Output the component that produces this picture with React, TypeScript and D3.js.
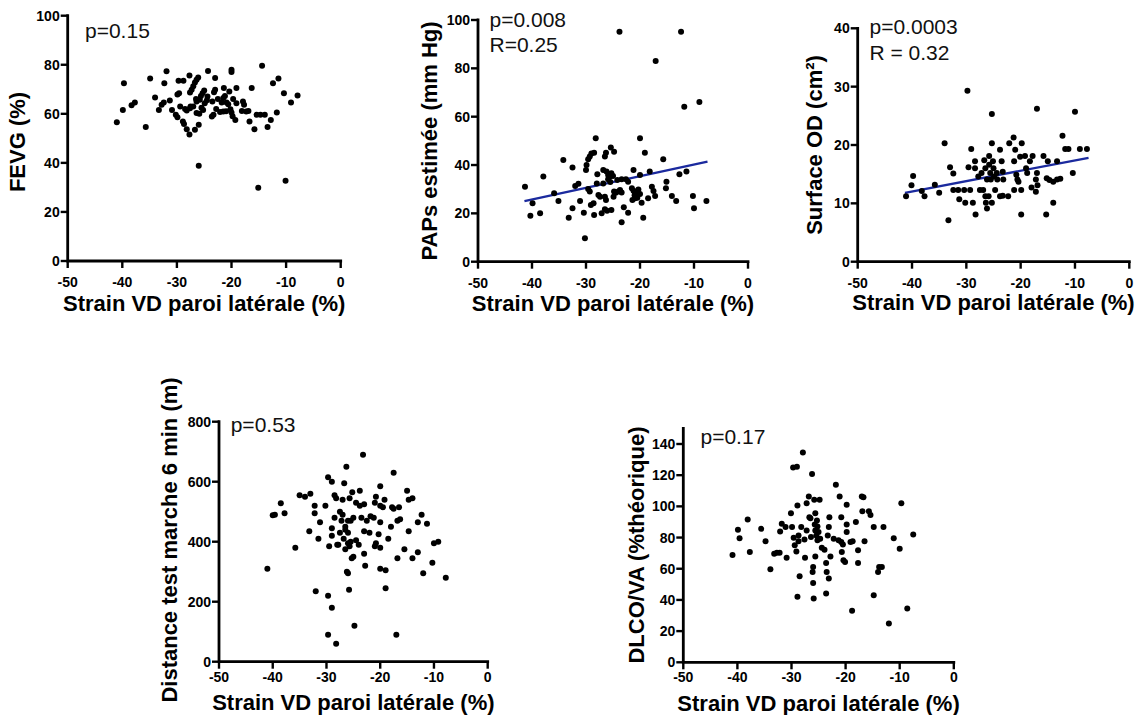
import React from 'react';
import * as d3 from 'd3';

type Pt = [number, number];

// ---------- DATA ----------
const strainTicks = [-50, -40, -30, -20, -10, 0];
const fevgTicks = [0, 20, 40, 60, 80, 100];
const papsTicks = [0, 20, 40, 60, 80, 100];
const odTicks = [0, 10, 20, 30, 40];
const walkTicks = [0, 200, 400, 600, 800];
const dlcoTicks = [0, 20, 40, 60, 80, 100, 120, 140];

const xTitle = 'Strain VD paroi latérale (%)';

const fevgPoints: Pt[] = [
  [-41.0, 56.6], [-39.9, 61.6], [-39.7, 72.5], [-38.3, 63.5], [-37.7, 64.6], [-35.7, 54.6], [-34.9, 74.4],
  [-34.0, 66.7], [-33.3, 61.6], [-32.8, 63.7], [-32.4, 64.6], [-32.3, 72.5], [-31.9, 77.4], [-31.3, 65.4],
  [-30.9, 61.6], [-30.2, 59.6], [-29.9, 58.6], [-29.9, 67.9], [-29.6, 68.4], [-29.7, 73.5], [-28.8, 73.5],
  [-29.4, 63.0], [-28.9, 56.9], [-28.7, 55.9], [-28.2, 53.7], [-27.7, 51.6], [-28.2, 61.4], [-27.7, 75.6],
  [-27.6, 68.7], [-27.3, 69.8], [-27.0, 71.2], [-26.7, 72.8], [-26.4, 73.9], [-26.1, 74.8], [-27.6, 62.3],
  [-27.0, 63.0], [-26.7, 53.5], [-26.0, 55.5], [-26.4, 60.3], [-25.9, 60.0], [-26.4, 65.0], [-25.8, 65.7],
  [-25.6, 67.3], [-25.3, 68.4], [-25.0, 69.5], [-24.9, 64.3], [-25.2, 61.6], [-26.0, 38.8], [-24.3, 77.5],
  [-24.4, 67.1], [-23.6, 58.9], [-23.3, 59.6], [-23.5, 65.0], [-23.2, 68.8], [-23.0, 69.8], [-23.0, 74.6],
  [-22.1, 60.7], [-21.5, 60.9], [-21.8, 64.6], [-21.4, 70.5], [-21.2, 67.3], [-20.9, 64.6], [-20.6, 63.9],
  [-20.4, 69.1], [-20.0, 78.0], [-20.0, 77.0], [-20.2, 61.9], [-20.0, 60.5], [-19.7, 66.0], [-19.1, 64.3],
  [-19.3, 57.5], [-19.1, 70.5], [-18.1, 61.2], [-17.9, 65.0], [-17.7, 63.7], [-17.3, 60.9], [-16.9, 61.2],
  [-16.7, 56.9], [-16.3, 70.5], [-15.8, 53.7], [-15.4, 59.6], [-14.7, 59.6], [-14.4, 79.6], [-13.9, 59.6],
  [-13.4, 54.6], [-12.8, 57.5], [-12.4, 72.5], [-11.7, 60.5], [-11.4, 74.4], [-10.4, 68.4], [-9.1, 64.6],
  [-7.9, 67.5], [-15.1, 29.9], [-10.1, 32.7], [-24.5, 65.5], [-22.5, 66.0], [-21.0, 61.0], [-26.5, 66.0],
  [-27.5, 63.0], [-28.5, 62.0], [-25.5, 62.5], [-21.5, 66.5], [-22.8, 62.0], [-19.8, 59.0],
];

const papsPoints: Pt[] = [
  [-41.3, 31.0], [-40.3, 19.0], [-39.9, 24.2], [-38.5, 20.0], [-37.9, 35.2], [-35.9, 28.3], [-35.1, 25.1],
  [-34.2, 42.1], [-33.2, 18.2], [-32.5, 39.0], [-32.5, 22.1], [-32.0, 31.3], [-31.4, 32.2], [-31.1, 25.1],
  [-30.4, 20.3], [-30.2, 9.7], [-30.0, 37.9], [-29.9, 40.0], [-29.6, 42.4], [-29.3, 43.5], [-29.0, 44.8],
  [-28.2, 51.1], [-28.5, 45.1], [-29.6, 30.1], [-29.3, 29.0], [-29.1, 23.5], [-28.6, 24.2], [-28.5, 19.3],
  [-27.9, 36.2], [-28.0, 32.4], [-27.7, 27.6], [-27.4, 26.9], [-27.1, 20.0], [-26.8, 32.4], [-26.5, 43.5],
  [-26.3, 45.1], [-25.4, 47.2], [-24.8, 45.5], [-26.5, 21.7], [-26.1, 21.1], [-25.3, 21.4], [-26.8, 37.9],
  [-26.2, 37.3], [-25.9, 35.9], [-25.6, 35.2], [-25.3, 36.6], [-25.9, 34.1], [-26.5, 26.9], [-26.3, 25.5],
  [-24.9, 26.9], [-24.8, 29.0], [-24.0, 29.0], [-23.7, 29.7], [-23.4, 28.6], [-24.2, 33.8], [-23.4, 34.1],
  [-22.6, 34.1], [-22.2, 33.1], [-23.0, 22.5], [-22.2, 20.3], [-23.4, 16.3], [-21.5, 30.4], [-21.2, 29.4],
  [-20.9, 28.3], [-21.4, 25.5], [-20.9, 26.2], [-21.2, 37.9], [-20.0, 51.1], [-20.0, 35.9], [-20.3, 29.9],
  [-20.0, 28.0], [-19.7, 24.4], [-19.1, 45.1], [-19.4, 18.2], [-18.2, 37.3], [-17.8, 31.0], [-17.5, 29.3],
  [-17.2, 27.2], [-18.5, 26.2], [-15.7, 42.4], [-15.1, 33.1], [-15.2, 30.4], [-14.1, 27.2], [-13.3, 25.1],
  [-12.7, 36.2], [-11.4, 37.3], [-10.2, 27.2], [-10.0, 22.1], [-7.7, 25.1], [-23.8, 95.1], [-17.1, 83.0],
  [-12.4, 95.1], [-11.8, 64.1], [-9.0, 66.1], [-25.5, 33.0], [-25.0, 35.5], [-24.5, 28.5], [-20.5, 26.5],
  [-21.0, 27.5],
];
const papsFit: Pt[] = [[-41.4, 25.1], [-7.5, 41.4]];

const odPoints: Pt[] = [
  [-41.1, 11.2], [-40.1, 13.1], [-39.8, 14.7], [-38.2, 12.1], [-37.7, 11.2], [-35.8, 13.2], [-35.0, 11.8],
  [-34.0, 20.3], [-33.3, 7.1], [-33.0, 16.2], [-32.4, 15.1], [-32.4, 12.3], [-31.5, 12.3], [-31.3, 10.7],
  [-30.4, 12.3], [-30.2, 10.1], [-29.8, 29.3], [-29.6, 16.2], [-29.3, 12.3], [-29.1, 19.3], [-28.8, 10.1],
  [-28.4, 17.2], [-28.3, 8.1], [-28.4, 16.0], [-27.8, 14.6], [-27.5, 12.3], [-27.2, 15.2], [-26.7, 17.4],
  [-26.5, 16.0], [-26.2, 14.1], [-26.9, 12.3], [-26.5, 11.2], [-26.4, 10.1], [-26.2, 9.1], [-25.9, 11.2],
  [-25.8, 18.1], [-25.8, 16.6], [-25.6, 15.2], [-25.5, 14.1], [-25.3, 25.3], [-25.3, 20.3], [-25.1, 17.2],
  [-25.0, 16.0], [-24.9, 14.6], [-24.7, 12.3], [-25.3, 10.1], [-24.4, 15.2], [-24.3, 14.1], [-23.8, 19.2],
  [-23.5, 17.2], [-23.3, 15.4], [-23.2, 14.1], [-23.8, 11.2], [-23.3, 11.3], [-22.3, 11.2], [-22.1, 20.3],
  [-21.3, 21.3], [-21.0, 19.2], [-21.2, 17.2], [-20.8, 14.9], [-20.6, 14.1], [-20.4, 13.7], [-21.2, 12.3],
  [-20.1, 18.0], [-19.8, 20.3], [-19.9, 12.3], [-19.9, 8.1], [-19.2, 18.1], [-19.0, 16.0], [-18.8, 15.2],
  [-18.3, 17.2], [-17.8, 18.1], [-18.0, 12.7], [-17.2, 14.1], [-16.9, 13.1], [-17.2, 12.0], [-17.0, 26.2],
  [-15.8, 18.1], [-15.0, 17.2], [-15.2, 14.3], [-14.7, 14.0], [-14.0, 13.7], [-13.3, 14.1], [-12.7, 14.2],
  [-13.3, 17.2], [-14.0, 10.1], [-15.3, 8.1], [-12.3, 21.6], [-11.8, 19.3], [-11.2, 19.3], [-10.4, 15.2],
  [-10.0, 25.7], [-9.1, 19.3], [-7.8, 19.3], [-17.0, 15.2],
];
const odFit: Pt[] = [[-41.3, 11.8], [-7.5, 17.8]];

const walkPoints: Pt[] = [
  [-41.0, 310], [-40.0, 488], [-39.6, 490], [-38.5, 528], [-37.8, 495], [-35.8, 380], [-35.0, 555],
  [-34.0, 550], [-33.0, 560], [-33.2, 435], [-32.2, 520], [-32.2, 495], [-32.0, 235], [-31.2, 465],
  [-31.5, 410], [-30.2, 520], [-29.7, 615], [-29.5, 385], [-29.7, 220], [-29.7, 90], [-29.0, 600],
  [-29.0, 420], [-29.0, 445], [-29.0, 180], [-28.5, 555], [-28.5, 480], [-28.2, 545], [-28.0, 390],
  [-28.2, 60], [-27.5, 500], [-27.5, 430], [-27.8, 390], [-27.0, 540], [-27.0, 490], [-27.2, 470],
  [-26.7, 595], [-26.5, 450], [-26.5, 440], [-26.5, 375], [-26.8, 410], [-26.3, 650], [-26.0, 470],
  [-26.0, 430], [-26.0, 395], [-26.2, 300], [-26.0, 295], [-25.7, 545], [-25.8, 240], [-25.5, 470],
  [-25.5, 400], [-25.3, 345], [-25.7, 385], [-25.2, 565], [-25.0, 480], [-25.0, 350], [-24.8, 120],
  [-24.5, 530], [-24.5, 405], [-23.8, 570], [-23.8, 520], [-24.0, 390], [-23.5, 480], [-23.2, 690],
  [-23.0, 525], [-23.0, 435], [-23.0, 360], [-22.8, 320], [-22.5, 470], [-22.0, 430], [-21.8, 485],
  [-21.2, 480], [-21.0, 530], [-20.8, 550], [-20.8, 395], [-21.0, 385], [-20.3, 425], [-20.0, 585],
  [-20.0, 520], [-20.0, 465], [-20.0, 380], [-20.0, 310], [-19.5, 515], [-19.2, 540], [-19.0, 305],
  [-19.0, 245], [-18.5, 410], [-18.0, 450], [-17.8, 515], [-17.5, 510], [-17.5, 630], [-17.0, 90],
  [-16.8, 345], [-16.8, 470], [-16.5, 515], [-16.3, 475], [-15.5, 375], [-15.0, 570], [-14.7, 540],
  [-14.7, 435], [-14.0, 545], [-14.0, 345], [-13.0, 365], [-13.0, 465], [-12.3, 490], [-12.0, 295],
  [-11.3, 460], [-10.3, 330], [-10.0, 395], [-9.2, 400], [-7.8, 280],
];

const dlcoPoints: Pt[] = [
  [-40.9, 68.8], [-39.9, 85.0], [-39.6, 79.6], [-38.1, 91.6], [-37.7, 70.7], [-35.6, 85.6], [-34.8, 77.7],
  [-33.9, 59.6], [-33.2, 69.6], [-32.7, 70.3], [-32.2, 70.3], [-32.1, 83.9], [-31.8, 88.8], [-31.1, 86.7],
  [-30.9, 67.1], [-30.1, 95.6], [-29.9, 86.7], [-29.7, 125.0], [-29.6, 79.9], [-29.4, 75.0], [-29.1, 71.1],
  [-29.0, 125.4], [-28.9, 100.5], [-28.7, 81.3], [-28.7, 77.7], [-28.9, 42.0], [-28.5, 55.2], [-28.2, 86.7],
  [-27.9, 134.6], [-27.6, 78.8], [-27.5, 67.1], [-27.2, 84.5], [-27.2, 102.0], [-26.8, 106.3], [-26.7, 93.1],
  [-26.5, 92.4], [-26.4, 80.3], [-26.2, 120.7], [-26.1, 57.9], [-26.0, 61.1], [-26.0, 50.9], [-25.9, 40.9],
  [-25.8, 104.3], [-25.7, 88.4], [-25.6, 95.6], [-25.6, 84.5], [-25.6, 67.9], [-25.4, 81.3], [-25.3, 91.0],
  [-25.2, 78.2], [-25.2, 87.1], [-25.0, 83.5], [-24.8, 104.3], [-24.7, 79.2], [-24.4, 73.5], [-23.9, 72.2],
  [-23.6, 63.7], [-23.5, 57.9], [-23.1, 86.7], [-23.3, 81.3], [-23.0, 93.1], [-22.8, 67.9], [-23.6, 44.1],
  [-23.1, 53.7], [-22.2, 79.2], [-21.8, 113.9], [-21.1, 106.3], [-21.3, 78.2], [-20.8, 93.1], [-20.8, 77.1],
  [-20.7, 70.7], [-20.4, 65.4], [-20.1, 64.3], [-19.8, 83.5], [-19.8, 88.4], [-20.5, 75.6], [-19.8, 101.1],
  [-19.1, 77.1], [-18.7, 77.7], [-18.8, 33.0], [-18.1, 89.9], [-17.7, 71.8], [-17.7, 63.7], [-17.0, 106.3],
  [-16.7, 105.8], [-16.9, 96.9], [-15.7, 96.9], [-15.4, 94.5], [-16.5, 77.7], [-14.8, 86.7], [-14.8, 43.0],
  [-14.0, 57.9], [-13.8, 61.1], [-13.3, 61.1], [-13.0, 86.7], [-12.0, 24.9], [-11.1, 79.6], [-10.0, 72.8],
  [-9.7, 102.0], [-8.6, 34.5], [-7.5, 82.0],
];

// ---------- LAYOUT ----------
const FONT = '"Liberation Sans", Arial, Helvetica, sans-serif';

interface PanelCfg {
  left: number; right: number; top: number; bottom: number;
  yMax: number; yTicks: number[];
  yTitle: string; yTitleX: number; yTitleY: number; yTitleSize: number;
  xTitleY: number; xTickDy: number;
  notes: { text: string; x: number; y: number }[];
  points: Pt[];
  fit?: Pt[];
}

const panels: PanelCfg[] = [
  {
    left: 67.7, right: 340.7, top: 15.7, bottom: 261, yMax: 100, yTicks: fevgTicks,
    yTitle: 'FEVG (%)', yTitleX: 25, yTitleY: 142, yTitleSize: 22, xTitleY: 311, xTickDy: 26,
    notes: [{ text: 'p=0.15', x: 85, y: 37.5 }], points: fevgPoints,
  },
  {
    left: 478, right: 748, top: 20, bottom: 261.7, yMax: 100, yTicks: papsTicks,
    yTitle: 'PAPs estimée (mm Hg)', yTitleX: 437, yTitleY: 141, yTitleSize: 22, xTitleY: 311, xTickDy: 26,
    notes: [{ text: 'p=0.008', x: 489.5, y: 27 }, { text: 'R=0.25', x: 489.5, y: 52 }],
    points: papsPoints, fit: papsFit,
  },
  {
    left: 857.7, right: 1129.3, top: 28.3, bottom: 261.7, yMax: 40, yTicks: odTicks,
    yTitle: 'Surface OD (cm²)', yTitleX: 821.5, yTitleY: 145, yTitleSize: 22, xTitleY: 310, xTickDy: 26,
    notes: [{ text: 'p=0.0003', x: 869.5, y: 33.5 }, { text: 'R = 0.32', x: 869.5, y: 60 }],
    points: odPoints, fit: odFit,
  },
  {
    left: 219, right: 487.7, top: 421.7, bottom: 661.7, yMax: 800, yTicks: walkTicks,
    yTitle: 'Distance test marche 6 min (m)', yTitleX: 176.5, yTitleY: 540, yTitleSize: 22, xTitleY: 710, xTickDy: 20,
    notes: [{ text: 'p=0.53', x: 230.7, y: 432 }], points: walkPoints,
  },
  {
    left: 683.3, right: 953.8, top: 428.4, bottom: 662.3, yMax: 150, yTicks: dlcoTicks,
    yTitle: 'DLCO/VA (%théorique)', yTitleX: 643.5, yTitleY: 545, yTitleSize: 22, xTitleY: 711, xTickDy: 20,
    notes: [{ text: 'p=0.17', x: 700.5, y: 443.5 }], points: dlcoPoints,
  },
];

function Panel({ cfg }: { cfg: PanelCfg }) {
  const x = d3.scaleLinear().domain([-50, 0]).range([cfg.left, cfg.right]);
  const y = d3.scaleLinear().domain([0, cfg.yMax]).range([cfg.bottom, cfg.top]);
  const x0 = x(-50);
  const y0 = y(0);
  const axisPath = `M${x0},${y(cfg.yMax)}V${y0}H${x(0)}`;
  const line = d3.line<Pt>().x((d) => x(d[0])).y((d) => y(d[1]));
  const cx = (x(-50) + x(0)) / 2;
  return (
    <g>
      <path d={axisPath} fill="none" stroke="#000" strokeWidth={2.8} strokeLinecap="square" />
      {strainTicks.map((t) => (
        <g key={'xt' + t}>
          <line x1={x(t)} x2={x(t)} y1={y0} y2={y0 + 7} stroke="#000" strokeWidth={2.4} />
          <text x={x(t)} y={y0 + cfg.xTickDy} textAnchor="middle" fontFamily={FONT} fontWeight="bold" fontSize={14}>
            {t}
          </text>
        </g>
      ))}
      {cfg.yTicks.map((t) => (
        <g key={'yt' + t}>
          <line x1={x0 - 7} x2={x0} y1={y(t)} y2={y(t)} stroke="#000" strokeWidth={2.4} />
          <text x={x0 - 8} y={y(t)} dy="0.36em" textAnchor="end" fontFamily={FONT} fontWeight="bold" fontSize={14}>
            {t}
          </text>
        </g>
      ))}
      {cfg.fit && (
        <path d={line(cfg.fit) || ''} fill="none" stroke="#1b2a9e" strokeWidth={2.3} />
      )}
      {cfg.points.map((d, i) => (
        <circle key={i} cx={x(d[0])} cy={y(d[1])} r={3} fill="#000" />
      ))}
      {cfg.notes.map((n, i) => (
        <text key={'n' + i} x={n.x} y={n.y} fontFamily={FONT} fontSize={21} fill="#111">
          {n.text}
        </text>
      ))}
      <text x={cx} y={cfg.xTitleY} textAnchor="middle" fontFamily={FONT} fontWeight="bold" fontSize={22}>
        {xTitle}
      </text>
      <text
        transform={`translate(${cfg.yTitleX},${cfg.yTitleY}) rotate(-90)`}
        textAnchor="middle"
        fontFamily={FONT}
        fontWeight="bold"
        fontSize={cfg.yTitleSize}
      >
        {cfg.yTitle}
      </text>
    </g>
  );
}

export default function App() {
  return (
    <svg
      width={1138}
      height={715}
      viewBox="0 0 1138 715"
      style={{ position: 'absolute', left: 0, top: 0, background: '#fff' }}
    >
      <rect x={0} y={0} width={1138} height={715} fill="#fff" />
      {panels.map((p, i) => (
        <Panel key={i} cfg={p} />
      ))}
    </svg>
  );
}
